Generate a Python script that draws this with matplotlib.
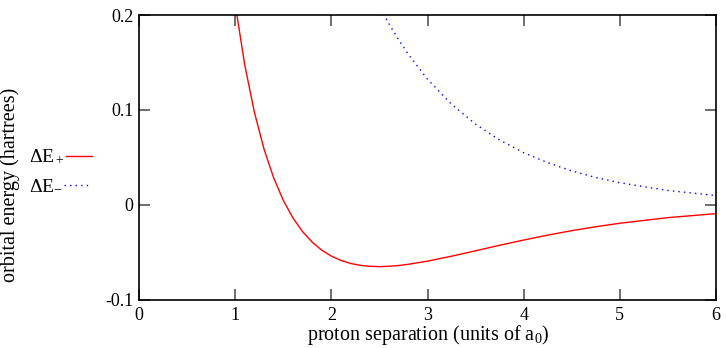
import matplotlib
matplotlib.use("Agg")
from matplotlib import pyplot as plt
from matplotlib.lines import Line2D

plt.rcParams['font.family'] = ['Liberation Serif', 'DejaVu Serif']
plt.rcParams['mathtext.fontset'] = 'custom'
plt.rcParams['mathtext.rm'] = 'Liberation Serif'
plt.rcParams['mathtext.it'] = 'Liberation Serif:italic'

# proton separation R (units of a0) and orbital energies (hartrees)
R_plus = [1.0, 1.1, 1.2, 1.3, 1.4, 1.5, 1.6, 1.7, 1.8, 1.9, 2.0, 2.1, 2.2, 2.3,
          2.4, 2.5, 2.6, 2.7, 2.8, 3.0, 3.25, 3.5, 3.75, 4.0, 4.25, 4.5, 4.75,
          5.0, 5.5, 6.0]
dE_plus = [0.2116, 0.1473, 0.0976, 0.0589, 0.0287, 0.0050, -0.0135, -0.0279,
           -0.0390, -0.0475, -0.0538, -0.0583, -0.0615, -0.0635, -0.0645,
           -0.0649, -0.0645, -0.0637, -0.0624, -0.0591, -0.0539, -0.0482,
           -0.0424, -0.0369, -0.0317, -0.0270, -0.0229, -0.0192, -0.0133, -0.0091]

R_minus = [2.4, 2.5, 2.6, 2.7, 2.8, 3.0, 3.25, 3.5, 3.75, 4.0, 4.25, 4.5, 4.75,
           5.0, 5.5, 6.0]
dE_minus = [0.2300, 0.2090, 0.1907, 0.1739, 0.1587, 0.1324, 0.1060, 0.0851,
            0.0684, 0.0551, 0.0445, 0.0359, 0.0290, 0.0234, 0.0153, 0.0100]

xticks = [0, 1, 2, 3, 4, 5, 6]
yticks = [-0.1, 0, 0.1, 0.2]
ytick_labels = ['-0.1', '0', '0.1', '0.2']

W, H = 726, 348
fig = plt.figure(figsize=(W/100, H/100), dpi=100)
ax = fig.add_axes([139/W, 1-300/H, (716-139)/W, (300-15)/H])

ax.plot(R_plus, dE_plus, color='red', linewidth=1.0)
ax.plot(R_minus, dE_minus, color='blue', linewidth=1.0, linestyle=(0, (1, 3)))

ax.set_xlim(0, 6)
ax.set_ylim(-0.1, 0.2)
ax.set_xticks(xticks)
ax.set_xticklabels([str(t) for t in xticks])
ax.set_yticks(yticks)
ax.set_yticklabels(ytick_labels)
ax.tick_params(direction='in', length=8, width=1.2, color='#555555',
               top=True, right=True, labelsize=13, pad=4)
ax.tick_params(axis='x', pad=5)
for s in ax.spines.values():
	s.set_linewidth(1.2)

# axis titles placed on the figure
fig.text(428/W, 1-340/H, 'proton separation (units of a$_0$)',
         ha='center', va='baseline', fontsize=14.5)
fig.text(10/W, 1-185/H, 'orbital energy (hartrees)', rotation=90,
         ha='center', va='center', fontsize=14.5)

# legend drawn by hand, left of the axes
fig.text(29/W, 1-157/H, 'ΔE$_+$', ha='left', va='center', fontsize=14)
fig.text(29/W, 1-185/H, 'ΔE$_{-}$', ha='left', va='center', fontsize=14)
fig.add_artist(Line2D([66/W, 92/W], [1-156/H, 1-156/H], color='red', linewidth=1.0))
fig.add_artist(Line2D([64/W, 88/W], [1-185/H, 1-185/H], color='blue',
                      linewidth=1.0, linestyle=(0, (1, 3))))

fig.savefig('out.png', dpi=100)
